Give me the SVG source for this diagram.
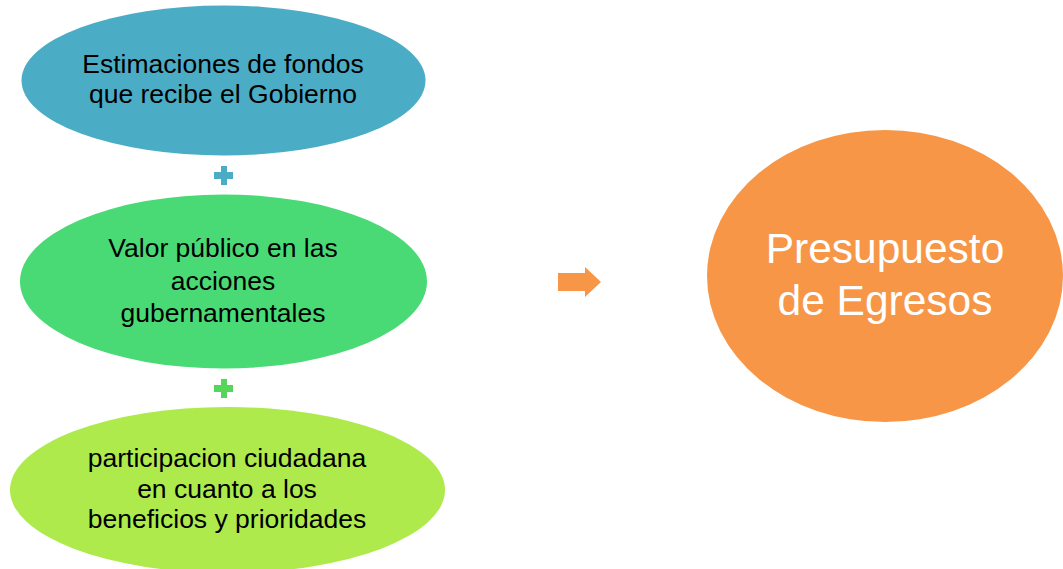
<svg xmlns="http://www.w3.org/2000/svg" width="1063" height="569" viewBox="0 0 1063 569">
<style>
.t{font-family:"Liberation Sans",Arial,sans-serif;font-size:26.5px;fill:#000;text-anchor:middle}
.big{font-family:"Liberation Sans",Arial,sans-serif;font-size:42.5px;fill:#fff;text-anchor:middle}
</style>
<rect width="1063" height="569" fill="#fff"/>
<g id="node-estimaciones">
<ellipse cx="223.5" cy="80.5" rx="202" ry="75" fill="#4BACC6"/>
<text class="t" x="223" y="73">Estimaciones de fondos</text>
<text class="t" x="223" y="102.5">que recibe el Gobierno</text>
</g>
<g id="node-valor">
<ellipse cx="223.5" cy="281.5" rx="203.5" ry="87" fill="#4ADA75"/>
<text class="t" x="223" y="257">Valor público en las</text>
<text class="t" x="223" y="290">acciones</text>
<text class="t" x="223" y="322">gubernamentales</text>
</g>
<g id="node-participacion">
<ellipse cx="227.5" cy="490" rx="217.5" ry="83" fill="#AEEA4B"/>
<text class="t" x="227" y="467">participacion ciudadana</text>
<text class="t" x="227" y="498">en cuanto a los</text>
<text class="t" x="227" y="528">beneficios y prioridades</text>
</g>
<g id="node-presupuesto">
<ellipse cx="885" cy="276" rx="178" ry="146" fill="#F79646"/>
<text class="big" x="885" y="263">Presupuesto</text>
<text class="big" x="885" y="315">de Egresos</text>
</g>
<g id="connectors">
<path d="M214 172h7v-6h6v6h6v7h-6v6h-6v-6h-7z" fill="#4BACC6"/>
<path d="M214 385h7v-6h6v6h6v7h-6v6h-6v-6h-7z" fill="#54D65A"/>
<path d="M558 273h27v-6l16 15l-16 15v-6h-27z" fill="#F79646"/>
</g>
</svg>
